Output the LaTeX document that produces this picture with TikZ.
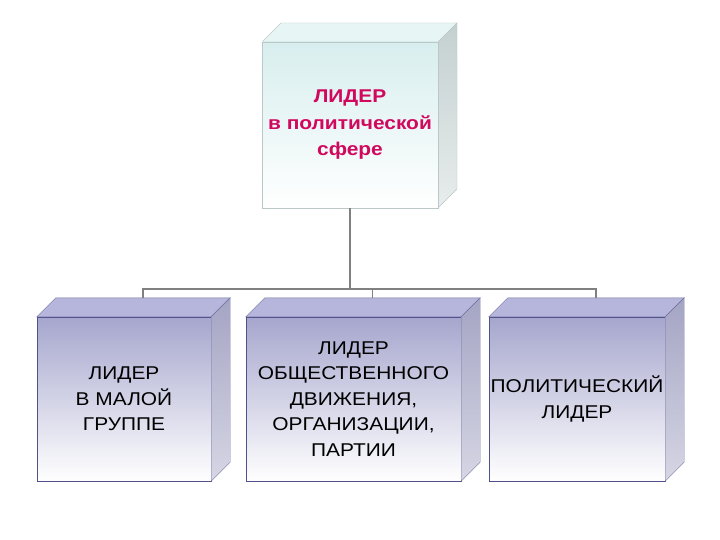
\documentclass[tikz,border=0pt]{standalone}
\usepackage{fontspec}
\setmainfont[FakeStretch=1.13]{Liberation Sans}
\usetikzlibrary{calc}

\definecolor{leaderred}{HTML}{D0085E}
\definecolor{cyantop}{HTML}{D8EEEE}
\definecolor{cyanedge}{HTML}{BCC8C8}
\definecolor{cyanside}{HTML}{C4D0D0}
\definecolor{lavtop}{HTML}{A6A6CE}
\definecolor{lavedge}{HTML}{50508A}
\definecolor{lavside}{HTML}{A4A4C4}
\definecolor{lavlid}{HTML}{B6B6DC}

\tikzset{
  front/.style={draw, inner sep=0pt, align=center,
    font=\fontsize{18.5}{25.5}\selectfont},
  headbox/.style={front, draw=cyanedge, top color=cyantop, bottom color=white,
    text=leaderred, font=\fontsize{18.5}{26.5}\selectfont\bfseries,
    minimum width=176pt, minimum height=166pt},
  kindbox/.style={front, draw=lavedge, top color=lavtop, bottom color=white,
    minimum height=164pt},
  conn/.style={draw=gray, line width=1.7pt},
}

\begin{document}
\begin{tikzpicture}[x=1pt, y=-1pt]
\useasboundingbox[fill=white] (0,0) rectangle (720,540);

% sides of the top box
\coordinate (d) at (19,-19);
\filldraw[draw=cyanedge, fill=cyantop!60] (262,42) -- ++(d) -- ($(438,42)+(d)$) -- (438,42) -- cycle;
\shade[top color=cyanside, bottom color=cyanside!40, draw=cyanedge] (438,42) -- ++(d) -- ($(438,208)+(d)$) -- (438,208) -- cycle;
\node[headbox] (head) at (350,125) {ЛИДЕР\\в политической\\сфере};

% bottom boxes
\node[kindbox, minimum width=174pt] (grp) at (124,399) {ЛИДЕР\\В МАЛОЙ\\ГРУППЕ};
\node[kindbox, minimum width=215pt] (mov) at (353.5,399) {ЛИДЕР\\ОБЩЕСТВЕННОГО\\ДВИЖЕНИЯ,\\ОРГАНИЗАЦИИ,\\ПАРТИИ};
\node[kindbox, minimum width=176pt] (pol) at (577,399) {ПОЛИТИЧЕСКИЙ\\ЛИДЕР};

\foreach \n in {grp, mov, pol} {
  \filldraw[draw=lavedge!80, fill=lavlid] (\n.north west) -- ++(d) -- ($(\n.north east)+(d)$) -- (\n.north east) -- cycle;
  \shade[top color=lavside, bottom color=lavside!45, draw=lavedge!80] (\n.north east) -- ++(d) -- ($(\n.south east)+(d)$) -- (\n.south east) -- cycle;
  \coordinate (\n-in) at ($(\n.north)+(d)$);
}

% connectors
\coordinate (fork) at (350,289);
\draw[conn] (head.south) -- (fork);
\draw[conn] (grp-in) |- (fork) -| (pol-in);
\draw[conn] (mov-in) -- (mov-in |- fork);
\end{tikzpicture}
\end{document}
